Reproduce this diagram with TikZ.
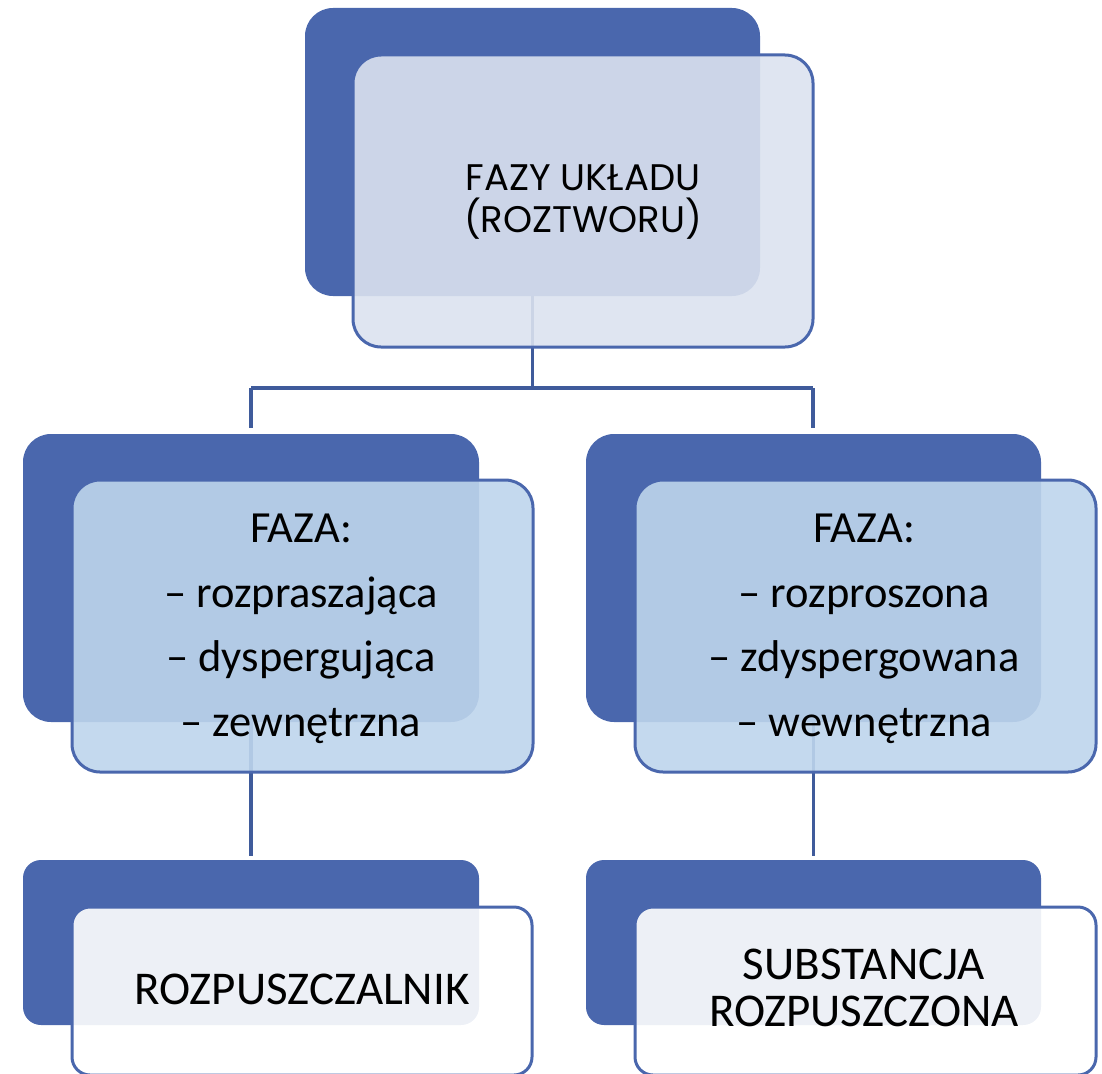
\documentclass[tikz,border=0pt]{standalone}
\usepackage{fontspec}
\setmainfont{Carlito}
\newfontfamily\headfont{Poppins}
\definecolor{dkblue}{HTML}{4A67AD}
\definecolor{lnblue}{HTML}{3F5B9B}
\definecolor{topfill}{HTML}{DBE2EF}
\definecolor{midfill}{HTML}{BED5EC}
\definecolor{lowfill}{HTML}{FFFFFF}
\begin{document}
\begin{tikzpicture}[x=1pt,y=-1pt,
  backbox/.style={fill=dkblue, draw=none, rounded corners=#1, inner sep=0pt,
    outer sep=0pt, anchor=north west},
  frontbox/.style={draw=dkblue, line width=3pt, rounded corners=#1, inner sep=0pt,
    outer sep=0pt, anchor=north west, fill opacity=0.9},
  label/.style={align=center, inner sep=0pt, text=black, anchor=base},
  link/.style={draw=lnblue, line width=3.5pt}
]
\useasboundingbox (0,0) rectangle (1102,1073);

% junction points of the tree
\coordinate (jn) at (532.5,388);
\coordinate (jl) at (251,388);
\coordinate (jr) at (813,388);

% rear cards
\node[backbox=28pt, minimum width=455pt, minimum height=288pt] (topB) at (305,8) {};
\node[backbox=28pt, minimum width=456pt, minimum height=288pt] (midLB) at (23,434) {};
\node[backbox=28pt, minimum width=455pt, minimum height=288pt] (midRB) at (586,434) {};
\node[backbox=18pt, minimum width=456pt, minimum height=165pt] (lowLB) at (23,860) {};
\node[backbox=18pt, minimum width=455pt, minimum height=165pt] (lowRB) at (586,860) {};

% connectors, under the translucent front cards
\draw[link] (topB.south) -- (jn);
\draw[link] (jl) -- (jr);
\draw[link, shorten >=6pt] (jl) -- (jl |- midLB.north);
\draw[link, shorten >=6pt] (jr) -- (jr |- midRB.north);
\draw[link, shorten >=4pt] (midLB.south) -- (lowLB.north);
\draw[link, shorten >=4pt] (midRB.south) -- (lowRB.north);

% front cards
\node[frontbox=28pt, fill=topfill, minimum width=460pt, minimum height=292pt] (topF) at (353,55) {};
\node[frontbox=28pt, fill=midfill, minimum width=461pt, minimum height=292pt] (midLF) at (72,480) {};
\node[frontbox=28pt, fill=midfill, minimum width=461pt, minimum height=292pt] (midRF) at (635,480) {};
\node[frontbox=18pt, fill=lowfill, minimum width=460pt, minimum height=168pt] (lowLF) at (72,907) {};
\node[frontbox=18pt, fill=lowfill, minimum width=461pt, minimum height=168pt] (lowRF) at (635,907) {};

% texts (anchored at the baseline of the last line)
\node[label, font=\headfont\fontsize{37}{42}\selectfont] (topT) at (583,232)
  {FAZY UKŁADU\\(ROZTWORU)};
\node[label, font=\fontsize{44.5}{64.5}\selectfont] (midLT) at (301,736)
  {FAZA:\\– rozpraszająca\\– dyspergująca\\– zewnętrzna};
\node[label, font=\fontsize{44.5}{64.5}\selectfont] (midRT) at (864,736)
  {FAZA:\\– rozproszona\\– zdyspergowana\\– wewnętrzna};
\node[label, font=\fontsize{47}{47}\selectfont] (lowLT) at (302,1004)
  {ROZPUSZCZALNIK};
\node[label, font=\fontsize{47}{47}\selectfont] (lowRT) at (864,1026)
  {SUBSTANCJA\\ROZPUSZCZONA};
\end{tikzpicture}
\end{document}
